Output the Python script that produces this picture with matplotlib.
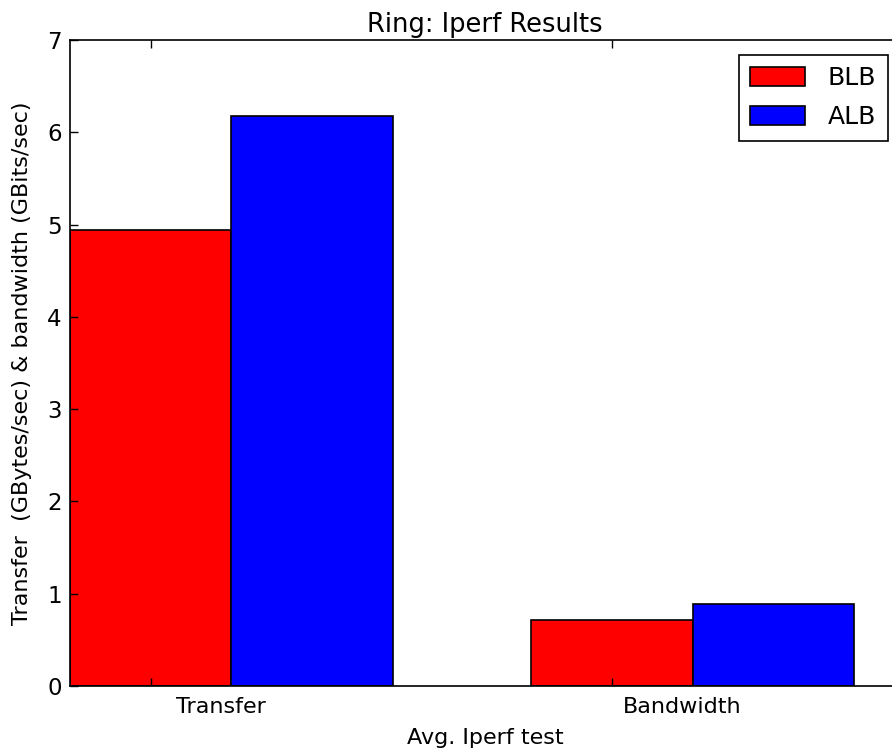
import numpy as np
import matplotlib
matplotlib.use("Agg")
import matplotlib.pyplot as plt

categories = ["Transfer", "Bandwidth"]
series_names = ["BLB", "ALB"]
blb = [4.94, 0.71]
alb = [6.18, 0.89]
colors = ["#ff0000", "#0000ff"]

plt.rcParams['font.family'] = ['DejaVu Sans']
fig = plt.figure(figsize=(8.92, 7.53), dpi=100)
W, H = 892, 753
ax = fig.add_axes([70 / W, (753 - 686) / H, 830 / W, 646 / H])

ind = np.arange(len(categories))
width = 0.35
ax.bar(ind, blb, width, align='edge', color=colors[0], edgecolor='black', linewidth=1.2, label=series_names[0])
ax.bar(ind + width, alb, width, align='edge', color=colors[1], edgecolor='black', linewidth=1.2, label=series_names[1])

ax.set_xlim(0, 1.8)
ax.set_ylim(0, 7)
# tick marks at bar-group starts, labels shifted (as in the reference)
ax.set_xticks(ind + width / 2)
ax.set_xticklabels([])
ax.set_xticks(ind + 0.328, minor=True)
ax.set_xticklabels(categories, minor=True, fontsize=16)
ax.tick_params(axis='x', which='minor', length=0, pad=8)
ax.set_yticks(range(0, 8))
ax.tick_params(axis='both', which='major', direction='in', length=6, width=1, top=True, right=True, labelsize=16.5, pad=6)
for s in ax.spines.values():
    s.set_linewidth(1.2)

ax.set_title("Ring: Iperf Results", fontsize=18.5, pad=6)
ax.set_xlabel("Avg. Iperf test", fontsize=16, labelpad=8)
ax.set_ylabel("Transfer  (GBytes/sec) & bandwidth (GBits/sec)", fontsize=16, labelpad=11)

leg = ax.legend(loc='upper left', bbox_to_anchor=((739 - 70) / 830, 1 - 15 / 646), fontsize=18,
                fancybox=False, edgecolor='black', framealpha=1, handlelength=2.2, handleheight=0.8,
                borderpad=0.45, labelspacing=0.6, handletextpad=0.9, borderaxespad=0)
leg.get_frame().set_linewidth(1.2)

fig.savefig("out.png", dpi=100, facecolor='white')
